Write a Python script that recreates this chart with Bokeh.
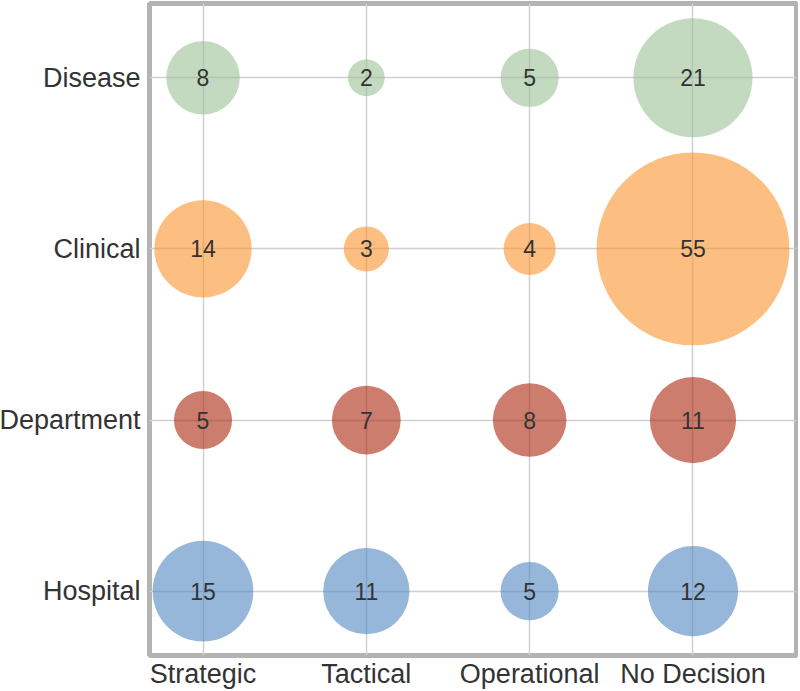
import numpy as np
from bokeh.plotting import figure
from bokeh.models import ColumnDataSource, FixedTicker
from bokeh.core.properties import value
from bokeh.embed import file_html
from bokeh.resources import INLINE

decisions = ["Strategic", "Tactical", "Operational", "No Decision"]
levels = ["Hospital", "Department", "Clinical", "Disease"]
hospital = [15, 11, 5, 12]
department = [5, 7, 8, 11]
clinical = [14, 3, 4, 55]
disease = [8, 2, 5, 21]
level_colors = ["#5085c1", "#ac260d", "#fc932f", "#9bc196"]

series = [hospital, department, clinical, disease]
xs, ys, vals, cols = [], [], [], []
for yi, (row, c) in enumerate(zip(series, level_colors)):
    for xi, v in enumerate(row):
        xs.append(xi)
        ys.append(yi)
        vals.append(v)
        cols.append(c)
src = ColumnDataSource(dict(x=xs, y=ys, v=vals, lab=[str(v) for v in vals],
                            size=[26 * np.sqrt(v) for v in vals], color=cols))

p = figure(width=802, height=691, output_backend="svg", toolbar_location=None,
           x_range=(-0.3276, 3.634), y_range=(-0.376, 3.434),
           min_border_left=148, min_border_right=2, min_border_top=3, min_border_bottom=34)
p.styles = {"position": "absolute", "left": "-4px", "top": "0px"}
p.outline_line_color = "#b3b3b3"
p.outline_line_width = 5
p.background_fill_color = "white"

p.scatter("x", "y", size="size", fill_color="color", fill_alpha=0.6, line_color=None, source=src)
p.text("x", "y", text="lab", text_align="center", text_baseline="middle",
       text_font=value("Liberation Sans"), text_font_size="23px", text_color="#333333", source=src)

for ax in (p.xaxis[0], p.yaxis[0]):
    ax.axis_line_color = None
    ax.major_tick_line_color = None
    ax.minor_tick_line_color = None
    ax.major_label_text_font = "Liberation Sans"
    ax.major_label_text_font_size = "27px"
    ax.major_label_text_color = "#333333"
p.xaxis.ticker = FixedTicker(ticks=list(range(len(decisions))))
p.xaxis.major_label_overrides = {i: d for i, d in enumerate(decisions)}
p.yaxis.ticker = FixedTicker(ticks=list(range(len(levels))))
p.yaxis.major_label_overrides = {i: l for i, l in enumerate(levels)}
p.yaxis.major_label_standoff = 3
p.xaxis.major_label_standoff = -3
p.grid.grid_line_color = "#d0d0d0"
p.grid.grid_line_width = 1.5

open("out.html", "w").write(file_html(p, INLINE))
